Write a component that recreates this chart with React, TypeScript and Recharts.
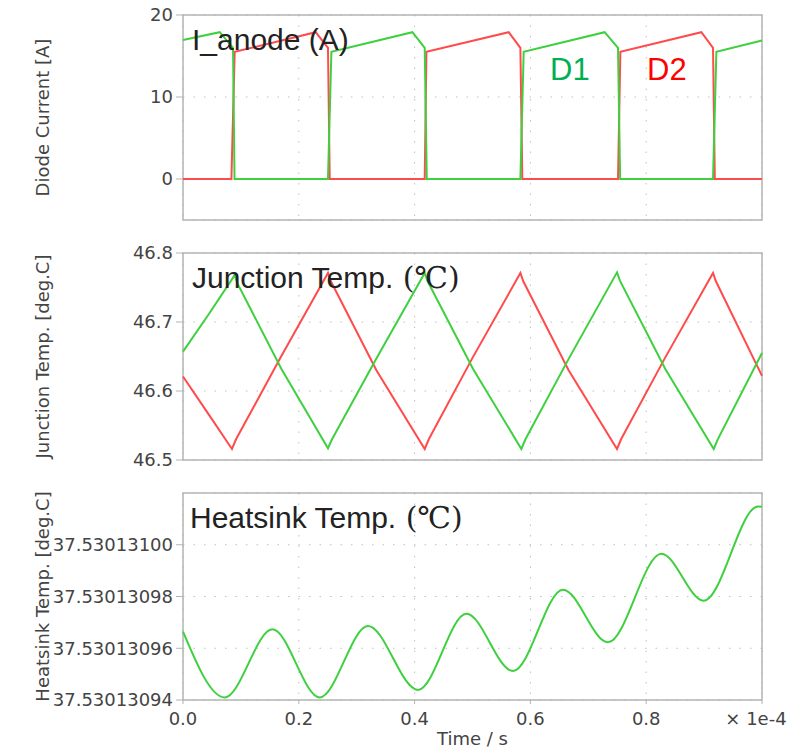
import React from 'react';
import { LineChart, Line, XAxis, YAxis, CartesianGrid, ReferenceArea } from 'recharts';

// time axis is in units of 1e-4 s
const timeTicks = [0, 0.2, 0.4, 0.6, 0.8, 1.0];

// diode current [A]
const d1CurrentTime = [0, 0.0634, 0.0864, 0.089, 0.2504, 0.2563, 0.3962, 0.4175, 0.421, 0.5827, 0.5884, 0.7282, 0.7513, 0.755, 0.9154, 0.9212, 1.0];
const d1Current = [16.95, 17.9, 16.0, 0, 0, 15.5, 17.9, 16.0, 0, 0, 15.5, 17.9, 16.0, 0, 0, 15.5, 16.9];
const d2CurrentTime = [0, 0.0836, 0.0893, 0.2292, 0.2504, 0.2534, 0.4175, 0.4204, 0.5625, 0.5827, 0.586, 0.7513, 0.7554, 0.8953, 0.9154, 0.9185, 1.0];
const d2Current = [0, 0, 15.5, 17.9, 16.0, 0, 0, 15.5, 17.9, 16.0, 0, 0, 15.5, 17.9, 16.0, 0, 0];
const currentTicks = [0, 10, 20];

// junction temperature [deg.C]
const d1JunctionTime = [0, 0.045, 0.0893, 0.094, 0.17, 0.2504, 0.2574, 0.334, 0.4175, 0.4225, 0.501, 0.5844, 0.5914, 0.667, 0.7496, 0.7546, 0.833, 0.9166, 0.9236, 1.0];
const d1Junction = [46.657, 46.712, 46.768, 46.756, 46.632, 46.517, 46.53, 46.647, 46.771, 46.759, 46.632, 46.516, 46.53, 46.648, 46.772, 46.76, 46.632, 46.516, 46.53, 46.655];
const d2JunctionTime = [0, 0.042, 0.0846, 0.0916, 0.1675, 0.2504, 0.2554, 0.334, 0.4175, 0.4245, 0.5, 0.5827, 0.5877, 0.666, 0.7496, 0.7566, 0.8325, 0.9154, 0.9204, 1.0];
const d2Junction = [46.621, 46.569, 46.516, 46.53, 46.647, 46.771, 46.759, 46.63, 46.516, 46.53, 46.648, 46.771, 46.759, 46.63, 46.516, 46.53, 46.648, 46.771, 46.759, 46.622];
const junctionTicks = [46.5, 46.6, 46.7, 46.8];

// heatsink temperature [deg.C]
const heatsinkTime = [0, 0.072, 0.1544, 0.2361, 0.3195, 0.4059, 0.4895, 0.57, 0.6563, 0.734, 0.8262, 0.8993, 0.9931, 1.0];
const heatsink = [37.5301309664, 37.530130941, 37.5301309673, 37.530130941, 37.5301309686, 37.5301309439, 37.5301309733, 37.5301309512, 37.5301309826, 37.5301309623, 37.5301309965, 37.5301309784, 37.5301310148, 37.5301310147];
const heatsinkTicks = [37.53013094, 37.53013096, 37.53013098, 37.530131];

const zip = (t: number[], v: number[]) => t.map((time, i) => ({ t: time, v: v[i] }));

const GREEN = '#3fd03f';
const RED = '#ff4b4b';
const FRAME = '#b4b4b4';
const GRID = '#c0c0c0';
const TICK_FONT = { fontSize: 18, fill: '#444', fontFamily: 'DejaVu Sans' };

const YTitle = ({ viewBox, text }: any) => {
  if (!viewBox) return null;
  const cy = viewBox.y + viewBox.height / 2;
  return (
    <text x={42} y={cy} transform={`rotate(-90 42 ${cy})`} textAnchor="middle" dominantBaseline="central"
      fill="#444" fontSize={18} fontFamily="DejaVu Sans">{text}</text>
  );
};

const XTitle = ({ viewBox }: any) => {
  if (!viewBox) return null;
  return (
    <text x={viewBox.x + viewBox.width / 2} y={viewBox.y + 45} textAnchor="middle"
      fill="#444" fontSize={18} fontFamily="DejaVu Sans">Time / s</text>
  );
};

const TimeTick = ({ x, y, payload }: any) => {
  const last = payload.value === 1;
  return (
    <text x={last ? x - 6 : x} y={y} dy="0.71em" textAnchor="middle" {...TICK_FONT}>
      {last ? '× 1e-4' : payload.value.toFixed(1)}
    </text>
  );
};

const chartMargin = (top: number, bottom: number) => ({ top, bottom, left: 23, right: 46 });

export default function App() {
  return (
    <div style={{ position: 'absolute', left: 0, top: 0, width: 808, height: 750, background: '#fff' }}>
      {/* current */}
      <div style={{ position: 'absolute', left: 0, top: 0 }}>
        <LineChart width={808} height={240} margin={chartMargin(15, 20)}>
          <CartesianGrid stroke={GRID} strokeDasharray="1.5 9" />
          <XAxis dataKey="t" type="number" domain={[0, 1]} ticks={timeTicks} hide />
          <YAxis type="number" domain={[-5, 20]} ticks={currentTicks} width={160} axisLine={false}
            tickSize={7} tickMargin={3} tickLine={{ stroke: FRAME }} tick={TICK_FONT}
            label={<YTitle text="Diode Current [A]" />} />
          <ReferenceArea x1={0} x2={1} y1={-5} y2={20} fill="none" stroke={FRAME} strokeWidth={1.5} ifOverflow="visible" />
          <Line data={zip(d2CurrentTime, d2Current)} dataKey="v" type="linear" stroke={RED} strokeWidth={2} dot={false} isAnimationActive={false} />
          <Line data={zip(d1CurrentTime, d1Current)} dataKey="v" type="linear" stroke={GREEN} strokeWidth={2} dot={false} isAnimationActive={false} />
        </LineChart>
      </div>

      {/* junction temperature */}
      <div style={{ position: 'absolute', left: 0, top: 240 }}>
        <LineChart width={808} height={240} margin={chartMargin(13, 20)}>
          <CartesianGrid stroke={GRID} strokeDasharray="1.5 9" />
          <XAxis dataKey="t" type="number" domain={[0, 1]} ticks={timeTicks} hide />
          <YAxis type="number" domain={[46.5, 46.8]} ticks={junctionTicks} width={160} axisLine={false}
            tickSize={7} tickMargin={3} tickLine={{ stroke: FRAME }} tick={TICK_FONT}
            tickFormatter={(v: number) => v.toFixed(1)}
            label={<YTitle text="Junction Temp. [deg.C]" />} />
          <ReferenceArea x1={0} x2={1} y1={46.5} y2={46.8} fill="none" stroke={FRAME} strokeWidth={1.5} ifOverflow="visible" />
          <Line data={zip(d2JunctionTime, d2Junction)} dataKey="v" type="linear" stroke={RED} strokeWidth={2} dot={false} isAnimationActive={false} />
          <Line data={zip(d1JunctionTime, d1Junction)} dataKey="v" type="linear" stroke={GREEN} strokeWidth={2} dot={false} isAnimationActive={false} />
        </LineChart>
      </div>

      {/* heatsink temperature */}
      <div style={{ position: 'absolute', left: 0, top: 480 }}>
        <LineChart width={808} height={270} margin={chartMargin(13, 0)}>
          <CartesianGrid stroke={GRID} strokeDasharray="1.5 9" />
          <XAxis dataKey="t" type="number" domain={[0, 1]} ticks={timeTicks} height={50} axisLine={false}
            tickSize={4} tickMargin={8} tickLine={{ stroke: FRAME }} tick={<TimeTick />}
            label={<XTitle />} />
          <YAxis type="number" domain={[37.53013094, 37.53013102]} ticks={heatsinkTicks} width={160} axisLine={false}
            tickSize={7} tickMargin={3} tickLine={{ stroke: FRAME }} tick={TICK_FONT}
            tickFormatter={(v: number) => v.toFixed(8)}
            label={<YTitle text="Heatsink Temp. [deg.C]" />} />
          <ReferenceArea x1={0} x2={1} y1={37.53013094} y2={37.53013102} fill="none" stroke={FRAME} strokeWidth={1.5} ifOverflow="visible" />
          <Line data={zip(heatsinkTime, heatsink)} dataKey="v" type="monotone" stroke={GREEN} strokeWidth={2} dot={false} isAnimationActive={false} />
        </LineChart>
      </div>

      {/* annotations */}
      <svg width={808} height={750} style={{ position: 'absolute', left: 0, top: 0, pointerEvents: 'none' }}>
        <g fontFamily="'Liberation Sans', Arial, sans-serif" fontSize={30} fill="#222">
          <text x={192} y={50}>I_anode (A)</text>
          <text x={192} y={288}>Junction Temp.<tspan fontFamily="'DejaVu Serif', 'Noto Sans CJK JP', serif"> (℃)</tspan></text>
          <text x={190} y={528}>Heatsink Temp.<tspan fontFamily="'DejaVu Serif', 'Noto Sans CJK JP', serif"> (℃)</tspan></text>
        </g>
        <text x={550} y={80} fontFamily="'Liberation Sans', Arial, sans-serif" fontSize={31} fill="#00b050">D1</text>
        <text x={647} y={80} fontFamily="'Liberation Sans', Arial, sans-serif" fontSize={31} fill="#ff0000">D2</text>
      </svg>
    </div>
  );
}
